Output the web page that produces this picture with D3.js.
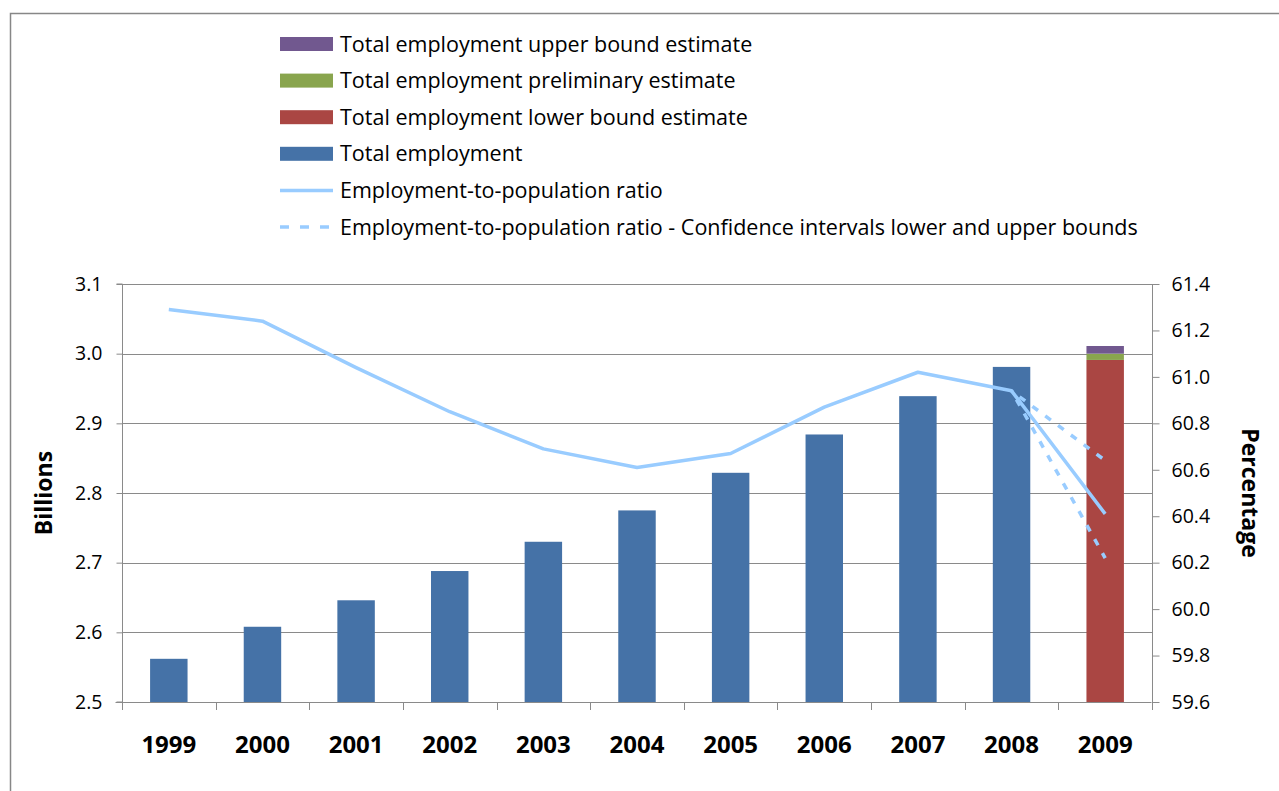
<!DOCTYPE html>
<html><head><meta charset="utf-8">
<script src="https://cdn.jsdelivr.net/npm/d3@7"></script>
<style>
html,body{margin:0;padding:0;background:#fff;}
svg{display:block;}
text{font-family:"Open Sans", Lato, sans-serif;fill:#000;}
</style></head>
<body>
<svg id="chart" width="1279" height="791"></svg>
<script>
const years = ["1999","2000","2001","2002","2003","2004","2005","2006","2007","2008","2009"];
const totalEmployment = [2.562, 2.608, 2.646, 2.688, 2.730, 2.775, 2.829, 2.884, 2.939, 2.981, 0];
const lowerBoundEstimate = [0,0,0,0,0,0,0,0,0,0,2.991];
const preliminaryEstimate = [0,0,0,0,0,0,0,0,0,0,0.009];
const upperBoundEstimate = [0,0,0,0,0,0,0,0,0,0,0.011];
const empPopRatio = [61.29, 61.24, 61.04, 60.85, 60.69, 60.61, 60.67, 60.87, 61.02, 60.94, 60.41];
const ciUpper = [null,null,null,null,null,null,null,null,null,60.94,60.64];
const ciLower = [null,null,null,null,null,null,null,null,null,60.94,60.22];
const leftTicks = [2.5,2.6,2.7,2.8,2.9,3.0,3.1];
const rightTicks = [59.6,59.8,60.0,60.2,60.4,60.6,60.8,61.0,61.2,61.4];

const FONT = '"Open Sans", Lato, sans-serif';
const svg = d3.select("#chart");
const m = {left:122, right:1152, top:284, bottom:702};

// outer frame
svg.append("rect").attr("x",10.5).attr("y",13.5).attr("width",1300).attr("height",900)
  .attr("fill","none").attr("stroke","#878787").attr("stroke-width",1.5);

const x = d3.scaleBand().domain(years).range([m.left,m.right]).paddingInner(0.6).paddingOuter(0.3);
const xb = d3.scaleBand().domain(years).range([m.left,m.right]);
const y = d3.scaleLinear().domain([2.5,3.1]).range([m.bottom,m.top]).clamp(true);
const y2 = d3.scaleLinear().domain([59.6,61.4]).range([m.bottom,m.top]);

// gridlines
svg.append("g").selectAll("line").data(leftTicks.slice(1)).join("line")
  .attr("x1",m.left).attr("x2",m.right)
  .attr("y1",d=>Math.round(y(d))+0.5).attr("y2",d=>Math.round(y(d))+0.5)
  .attr("stroke","#8a8a8a").attr("stroke-width",1);

// bars
const rows = years.map((yr,i)=>({year:yr, total:totalEmployment[i], lower:lowerBoundEstimate[i], prelim:preliminaryEstimate[i], upper:upperBoundEstimate[i]}));
const keys = ["total","lower","prelim","upper"];
const colors = {total:"#4572A7", lower:"#AA4643", prelim:"#89A54E", upper:"#71588F"};
const stack = d3.stack().keys(keys)(rows);
svg.append("g").selectAll("g").data(stack).join("g").attr("fill",s=>colors[s.key])
  .selectAll("rect").data(s=>s.filter(d=>d[1]-d[0]>0)).join("rect")
  .attr("x",d=>x(d.data.year)).attr("width",x.bandwidth())
  .attr("y",d=>y(d[1])).attr("height",d=>y(d[0])-y(d[1]));

// axes
const gl = svg.append("g").attr("transform",`translate(${m.left+0.5},0)`)
  .call(d3.axisLeft(y).tickValues(leftTicks).tickFormat(d3.format(".1f")).tickSize(6).tickPadding(14));
const gr = svg.append("g").attr("transform",`translate(${m.right+0.5},0)`)
  .call(d3.axisRight(y2).tickValues(rightTicks).tickFormat(d3.format(".1f")).tickSize(7).tickPadding(14));
const gx = svg.append("g").attr("transform",`translate(0,${m.bottom+0.5})`)
  .call(d3.axisBottom(xb).tickSize(0).tickPadding(33));
// x boundary ticks
svg.append("g").selectAll("line").data(years.map(yr=>xb(yr)).concat([m.right])).join("line")
  .attr("x1",d=>Math.round(d)+0.5).attr("x2",d=>Math.round(d)+0.5)
  .attr("y1",m.bottom).attr("y2",m.bottom+8).attr("stroke","#8a8a8a");
[gl,gr,gx].forEach(g=>{
  g.select(".domain").attr("stroke","#8a8a8a");
  g.selectAll(".tick line").attr("stroke","#8a8a8a");
  g.selectAll("text").style("font-family",FONT).attr("fill","#000");
});
gl.select(".domain").attr("d",`M-6,${m.bottom}H0V${m.top}H-6`);
gr.select(".domain").attr("d",`M0,${m.bottom+8}V${m.top}`);
gx.select(".domain").attr("d",`M${m.left-6-0.5},0H${m.right-0.5}`);
gl.selectAll("text").style("font-size","19.5px");
gr.selectAll("text").style("font-size","19.5px").attr("x",19);
gx.selectAll("text").style("font-size","24px").style("font-weight","bold");

// lines
const line = d3.line().defined(d=>d!=null).x((d,i)=>xb(years[i])+xb.bandwidth()/2).y(d=>y2(d));
svg.append("path").datum(empPopRatio).attr("d",line).attr("fill","none")
  .attr("stroke","#99CCFF").attr("stroke-width",3.5).attr("stroke-linejoin","round");
[ciUpper,ciLower].forEach(ci=>{
  svg.append("path").datum(ci).attr("d",line).attr("fill","none")
    .attr("stroke","#99CCFF").attr("stroke-width",3.5).attr("stroke-dasharray","7,9").attr("stroke-dashoffset",-10);
});

// axis titles
svg.append("text").attr("transform",`translate(52,${(m.top+m.bottom)/2}) rotate(-90)`)
  .attr("text-anchor","middle").style("font-size","23px").style("font-weight","bold").text("Billions");
svg.append("text").attr("transform",`translate(1242,${(m.top+m.bottom)/2}) rotate(90)`)
  .attr("text-anchor","middle").style("font-size","23px").style("font-weight","bold").text("Percentage");

// legend
const legendItems = [
  {label:"Total employment upper bound estimate", type:"rect", color:colors.upper},
  {label:"Total employment preliminary estimate", type:"rect", color:colors.prelim},
  {label:"Total employment lower bound estimate", type:"rect", color:colors.lower},
  {label:"Total employment", type:"rect", color:colors.total},
  {label:"Employment-to-population ratio", type:"line", color:"#99CCFF"},
  {label:"Employment-to-population ratio - Confidence intervals lower and upper bounds", type:"dash", color:"#99CCFF"}
];
const lg = svg.append("g").selectAll("g").data(legendItems).join("g")
  .attr("transform",(d,i)=>`translate(280,${44+i*36.6})`);
lg.filter(d=>d.type==="rect").append("rect").attr("x",0).attr("y",-7).attr("width",53).attr("height",14).attr("fill",d=>d.color);
lg.filter(d=>d.type!=="rect").append("line").attr("x1",0).attr("x2",53).attr("y1",0).attr("y2",0)
  .attr("stroke",d=>d.color).attr("stroke-width",3.5)
  .attr("stroke-dasharray",d=>d.type==="dash"?"9,11":null);
lg.append("text").attr("x",60).attr("y",0).attr("dy","0.35em").style("font-size","21.5px").text(d=>d.label);
</script>
</body></html>
